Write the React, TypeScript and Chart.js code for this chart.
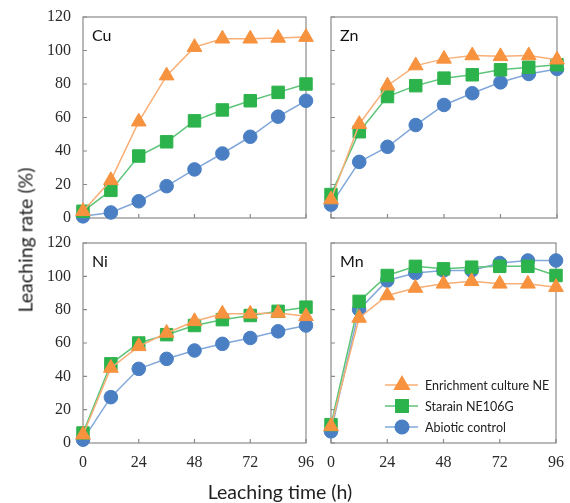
import React, { useEffect, useRef } from "react";
import { Chart, registerables } from "chart.js";
import { drawPoint } from "chart.js/helpers";

Chart.register(...registerables);

const hours = [0, 12, 24, 36, 48, 60, 72, 84, 96];
const xTicks = [0, 24, 48, 72, 96];
const yTicks = [0, 20, 40, 60, 80, 100, 120];
const seriesNames = ["Enrichment culture NE", "Starain NE106G", "Abiotic control"];

const cuEnrichment = [4, 22.5, 57.5, 85, 102, 107, 107, 107.5, 108];
const cuStrain = [4, 16.5, 37, 45.5, 58, 64.5, 70, 75, 80];
const cuAbiotic = [1, 3.3, 10, 19, 29, 38.5, 48.5, 60.5, 70];

const znEnrichment = [11, 56, 79, 91, 95, 97, 96.5, 97, 94.5];
const znStrain = [14, 51.5, 72.5, 79, 83.5, 85.5, 88.5, 90, 91.5];
const znAbiotic = [8, 33.5, 42.5, 55.5, 67.5, 74.5, 81, 86, 89];

const niEnrichment = [5, 45, 58, 66, 73, 77.5, 77.5, 78, 76];
const niStrain = [6, 47.5, 60, 65, 70.5, 74, 76.5, 79, 81.5];
const niAbiotic = [2, 27.5, 44.5, 50.5, 55.5, 59.5, 63, 67, 70.5];

const mnEnrichment = [10, 75, 88.5, 93, 95.5, 97, 95.5, 95.5, 93.5];
const mnStrain = [11, 85, 100.5, 106, 104.5, 105.5, 106, 106, 100.5];
const mnAbiotic = [7, 80, 97.5, 102, 103.5, 103.5, 108, 109.5, 109.5];

const styles = [
  { marker: "#F7923F", line: "#F9AE75", pointStyle: "triangle", radius: 8.5 },
  { marker: "#2DB34C", line: "#5DC479", pointStyle: "rect", radius: 8.8 },
  { marker: "#4A7FC4", line: "#82A8DA", pointStyle: "circle", radius: 6.8 },
];

const SANS = "Lato, 'Open Sans', sans-serif";
const SERIF = "'Liberation Serif', 'DejaVu Serif', serif";

const panelPlugin = {
  id: "panelDeco",
  beforeDatasetsDraw(chart: any, _args: any, opts: any) {
    const { ctx, chartArea } = chart;
    const xs = chart.scales.x;
    const ys = chart.scales.y;
    ctx.save();
    ctx.strokeStyle = "#8a8a8a";
    ctx.lineWidth = 1.2;
    ctx.strokeRect(chartArea.left, chartArea.top, chartArea.right - chartArea.left, chartArea.bottom - chartArea.top);
    ctx.beginPath();
    xs.ticks.forEach((t: any) => {
      const px = xs.getPixelForValue(t.value);
      ctx.moveTo(px, chartArea.bottom);
      ctx.lineTo(px, chartArea.bottom - 4);
    });
    ys.ticks.forEach((t: any) => {
      const py = ys.getPixelForValue(t.value);
      ctx.moveTo(chartArea.left, py);
      ctx.lineTo(chartArea.left + 4, py);
    });
    ctx.stroke();
    ctx.fillStyle = "#111";
    ctx.font = `16px ${SANS}`;
    ctx.textBaseline = "alphabetic";
    ctx.textAlign = "left";
    ctx.fillText(opts.label, chartArea.left + 9, chartArea.top + 24);
    ctx.restore();
  },
  afterDatasetsDraw(chart: any, _args: any, opts: any) {
    if (!opts.legend) return;
    const { ctx, chartArea } = chart;
    ctx.save();
    chart.data.datasets.forEach((ds: any, i: number) => {
      const y = chartArea.bottom - 58 + i * 21;
      const x0 = chartArea.left + 54;
      ctx.strokeStyle = ds.borderColor;
      ctx.lineWidth = 1.5;
      ctx.beginPath();
      ctx.moveTo(x0, y);
      ctx.lineTo(x0 + 33, y);
      ctx.stroke();
      ctx.fillStyle = ds.pointBackgroundColor;
      ctx.strokeStyle = ds.pointBorderColor;
      drawPoint(ctx, { pointStyle: ds.pointStyle, radius: ds.pointRadius, rotation: 0, borderWidth: 1 }, x0 + 17, y);
      ctx.fillStyle = "#222";
      ctx.font = `12.5px ${SANS}`;
      ctx.textBaseline = "middle";
      ctx.textAlign = "left";
      ctx.fillText(ds.label, x0 + 40, y + 1);
    });
    ctx.restore();
  },
};

type PanelProps = {
  label: string;
  data: number[][];
  left: number;
  top: number;
  width: number;
  height: number;
  axisLeft: number;
  axisBottom: number;
  padTop: number;
  padRight: number;
  showX: boolean;
  showY: boolean;
  legend: boolean;
};

function Panel(p: PanelProps) {
  const ref = useRef<HTMLCanvasElement>(null);
  useEffect(() => {
    if (!ref.current) return;
    const fixPad = (s: any) => {
      s.paddingLeft = 0;
      s.paddingRight = 0;
      s.paddingTop = 0;
      s.paddingBottom = 0;
    };
    const chart = new Chart(ref.current, {
      type: "line",
      data: {
        labels: hours,
        datasets: p.data.map((vals, i) => ({
          label: seriesNames[i],
          data: hours.map((h, j) => ({ x: h, y: vals[j] })),
          borderColor: styles[i].line,
          borderWidth: 1.5,
          pointStyle: styles[i].pointStyle as any,
          pointRadius: styles[i].radius,
          pointBackgroundColor: styles[i].marker,
          pointBorderColor: styles[i].marker,
          pointBorderWidth: 1,
          tension: 0,
          clip: false as any,
        })),
      },
      options: {
        animation: false,
        responsive: false,
        layout: { padding: { top: p.padTop, right: p.padRight, left: 0, bottom: 0 } },
        plugins: {
          legend: { display: false },
          tooltip: { enabled: false },
          panelDeco: { label: p.label, legend: p.legend },
        } as any,
        scales: {
          x: {
            type: "linear",
            min: 0,
            max: 96,
            afterBuildTicks: (s: any) => {
              s.ticks = xTicks.map((v) => ({ value: v }));
            },
            ticks: {
              display: p.showX,
              padding: 10,
              color: "#2a2a2a",
              font: { family: SERIF, size: 16 },
            },
            grid: { display: false, drawTicks: false },
            border: { display: false },
            afterFit: (s: any) => {
              s.height = p.axisBottom;
              fixPad(s);
            },
          },
          y: {
            type: "linear",
            min: 0,
            max: 120,
            afterBuildTicks: (s: any) => {
              s.ticks = yTicks.map((v) => ({ value: v }));
            },
            ticks: {
              display: p.showY,
              padding: 12,
              color: "#2a2a2a",
              font: { family: SERIF, size: 16 },
            },
            grid: { display: false, drawTicks: false },
            border: { display: false },
            afterFit: (s: any) => {
              s.width = p.axisLeft;
              fixPad(s);
            },
          },
        },
      },
      plugins: [panelPlugin],
    });
    return () => chart.destroy();
  }, []);
  return (
    <canvas
      ref={ref}
      width={p.width}
      height={p.height}
      style={{ position: "absolute", left: p.left, top: p.top, width: p.width, height: p.height }}
    />
  );
}

export default function App() {
  return (
    <div style={{ position: "fixed", left: 0, top: 0, width: 570, height: 503, background: "#fff", overflow: "hidden" }}>
      <Panel label="Cu" data={[cuEnrichment, cuStrain, cuAbiotic]} left={0} top={0} width={320} height={230}
        axisLeft={83} axisBottom={12} padTop={17} padRight={14} showX={false} showY={true} legend={false} />
      <Panel label="Zn" data={[znEnrichment, znStrain, znAbiotic]} left={320} top={0} width={250} height={230}
        axisLeft={11} axisBottom={12} padTop={17} padRight={13} showX={false} showY={false} legend={false} />
      <Panel label="Ni" data={[niEnrichment, niStrain, niAbiotic]} left={0} top={230} width={320} height={250}
        axisLeft={83} axisBottom={37} padTop={13} padRight={14} showX={true} showY={true} legend={false} />
      <Panel label="Mn" data={[mnEnrichment, mnStrain, mnAbiotic]} left={320} top={230} width={250} height={250}
        axisLeft={11} axisBottom={37} padTop={13} padRight={14} showX={true} showY={false} legend={true} />
      <div style={{ position: "absolute", left: 25, top: 240, transform: "translate(-50%, -50%) rotate(-90deg)", whiteSpace: "nowrap", font: `19.5px ${SANS}`, color: "#222" }}>
        Leaching rate (%)
      </div>
      <div style={{ position: "absolute", left: 280, top: 491, transform: "translate(-50%, -50%)", whiteSpace: "nowrap", font: `19.5px ${SANS}`, color: "#222" }}>
        Leaching time (h)
      </div>
    </div>
  );
}
